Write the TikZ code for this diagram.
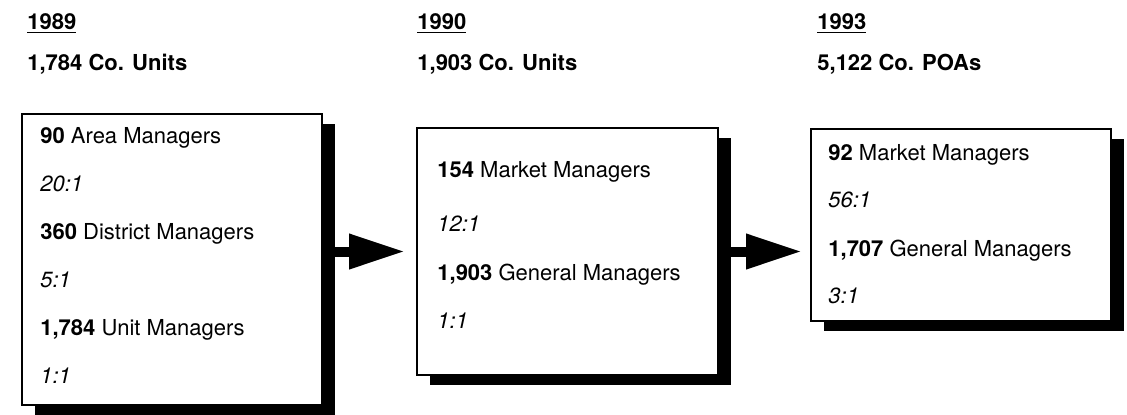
\documentclass[tikz,border=0pt]{standalone}
\usepackage{fontspec}
\setmainfont{TeX Gyre Heros}
\usetikzlibrary{arrows.meta,shadows}

\begin{document}
\begin{tikzpicture}[x=0.5pt,y=0.5pt,font=\fontsize{11}{13}\selectfont,
 box/.style={draw,line width=1pt,fill=white,inner sep=0pt,
  drop shadow={shadow xshift=6.5pt,shadow yshift=-5pt,fill=black,opacity=1}},
 txt/.style={anchor=base west,inner sep=0pt},
 link/.style={line width=5pt,-{Triangle[length=28pt,width=16.5pt]}}]
\useasboundingbox (0,0) rectangle (1127,414);
% the three years
\node[txt] (y89) at (27,385) {\textbf{\underline{1989}}};
\node[txt] (u89) at (27,344) {\textbf{1,784 Co. Units}};
\node[txt] (y90) at (417,385) {\textbf{\underline{1990}}};
\node[txt] (u90) at (417,344) {\textbf{1,903 Co. Units}};
\node[txt] (y93) at (817,385) {\textbf{\underline{1993}}};
\node[txt] (u93) at (817,344) {\textbf{5,122 Co. POAs}};
% boxes
\node[box,minimum width=150pt,minimum height=145.5pt] (b89) at (172,154.5) {};
\node[box,minimum width=150.5pt,minimum height=123.5pt] (b90) at (567.5,162.5) {};
\node[box,minimum width=150pt,minimum height=96pt] (b93) at (961,189) {};
% 1989
\node[txt] (a89) at (40,271) {\textbf{90} Area Managers};
\node[txt] (ra89) at (40,223) {\textit{20:1}};
\node[txt] (d89) at (40,175) {\textbf{360} District Managers};
\node[txt] (rd89) at (40,127) {\textit{5:1}};
\node[txt] (m89) at (40,79) {\textbf{1,784} Unit Managers};
\node[txt] (rm89) at (40,31) {\textit{1:1}};
% 1990
\node[txt] (k90) at (437,237) {\textbf{154} Market Managers};
\node[txt] (rk90) at (437,183) {\textit{12:1}};
\node[txt] (g90) at (437,134) {\textbf{1,903} General Managers};
\node[txt] (rg90) at (437,86) {\textit{1:1}};
% 1993
\node[txt] (k93) at (828,254) {\textbf{92} Market Managers};
\node[txt] (rk93) at (828,207) {\textit{56:1}};
\node[txt] (g93) at (828,158) {\textbf{1,707} General Managers};
\node[txt] (rg93) at (828,111) {\textit{3:1}};
% arrows
\draw[link,shorten >=5.5pt] (b89.east |- b90.west) -- (b90.west);
\draw[link,shorten >=4pt] (b90.east) -- (b93.west |- b90.east);
\end{tikzpicture}
\end{document}
